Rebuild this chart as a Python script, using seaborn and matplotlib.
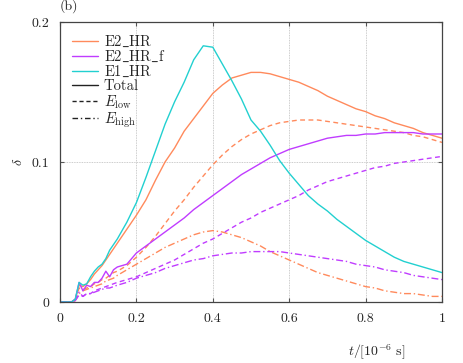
import numpy as np
import pandas as pd
import matplotlib
matplotlib.use("Agg")
import matplotlib.pyplot as plt
import seaborn as sns
from matplotlib.lines import Line2D

# time grid in units of 1e-6 s
t = [0, 0.02, 0.03, 0.04, 0.05, 0.06, 0.07, 0.08, 0.09, 0.10, 0.11, 0.12, 0.13, 0.14, 0.15,
     0.175, 0.2, 0.225, 0.25, 0.275, 0.3, 0.325, 0.35, 0.375, 0.4, 0.425, 0.45, 0.475, 0.5,
     0.525, 0.55, 0.575, 0.6, 0.625, 0.65, 0.675, 0.7, 0.725, 0.75, 0.775, 0.8, 0.825, 0.85,
     0.875, 0.9, 0.925, 0.95, 0.975, 1.0]

# E2_HR
e2_total = [0, 0, 0, 0.002, 0.012, 0.011, 0.013, 0.016, 0.020, 0.023, 0.026, 0.030, 0.034, 0.038, 0.042,
            0.052, 0.062, 0.073, 0.087, 0.100, 0.110, 0.122, 0.131, 0.140, 0.149, 0.155, 0.160, 0.162, 0.164,
            0.164, 0.163, 0.161, 0.159, 0.157, 0.154, 0.151, 0.147, 0.144, 0.141, 0.138, 0.136, 0.133, 0.131,
            0.128, 0.126, 0.124, 0.121, 0.119, 0.117]
e2_low = [0, 0, 0, 0.001, 0.010, 0.009, 0.010, 0.011, 0.013, 0.014, 0.016, 0.017, 0.019, 0.021, 0.022,
          0.026, 0.032, 0.039, 0.047, 0.056, 0.065, 0.073, 0.082, 0.090, 0.098, 0.105, 0.111, 0.116, 0.120,
          0.123, 0.126, 0.128, 0.129, 0.130, 0.130, 0.130, 0.129, 0.128, 0.127, 0.126, 0.125, 0.124, 0.123,
          0.122, 0.121, 0.119, 0.118, 0.116, 0.114]
e2_high = [0, 0, 0, 0.001, 0.006, 0.008, 0.009, 0.010, 0.011, 0.012, 0.013, 0.015, 0.016, 0.017, 0.019,
           0.023, 0.027, 0.031, 0.035, 0.039, 0.042, 0.045, 0.048, 0.050, 0.051, 0.050, 0.048, 0.046, 0.043,
           0.040, 0.036, 0.033, 0.030, 0.027, 0.024, 0.021, 0.019, 0.017, 0.015, 0.013, 0.011, 0.010, 0.008,
           0.007, 0.006, 0.006, 0.005, 0.004, 0.004]

# E2_HR_f
e2f_total = [0, 0, 0, 0.002, 0.014, 0.008, 0.012, 0.011, 0.014, 0.014, 0.017, 0.022, 0.018, 0.023, 0.025,
             0.027, 0.035, 0.040, 0.045, 0.050, 0.055, 0.060, 0.066, 0.071, 0.076, 0.081, 0.086, 0.091, 0.095,
             0.099, 0.103, 0.106, 0.109, 0.111, 0.113, 0.115, 0.117, 0.118, 0.119, 0.119, 0.120, 0.120, 0.121,
             0.121, 0.121, 0.121, 0.120, 0.120, 0.120]
e2f_low = [0, 0, 0, 0.001, 0.005, 0.004, 0.006, 0.006, 0.008, 0.009, 0.010, 0.011, 0.012, 0.013, 0.014,
           0.016, 0.018, 0.021, 0.024, 0.027, 0.030, 0.034, 0.038, 0.042, 0.045, 0.049, 0.053, 0.057, 0.060,
           0.064, 0.067, 0.070, 0.073, 0.076, 0.080, 0.083, 0.086, 0.088, 0.090, 0.092, 0.094, 0.096, 0.097,
           0.099, 0.100, 0.101, 0.102, 0.103, 0.104]
e2f_high = [0, 0, 0, 0.001, 0.007, 0.004, 0.006, 0.006, 0.007, 0.008, 0.009, 0.010, 0.010, 0.011, 0.012,
            0.014, 0.017, 0.019, 0.021, 0.024, 0.026, 0.028, 0.030, 0.031, 0.033, 0.034, 0.035, 0.035, 0.036,
            0.036, 0.036, 0.036, 0.035, 0.034, 0.033, 0.032, 0.031, 0.030, 0.029, 0.027, 0.026, 0.025, 0.023,
            0.022, 0.021, 0.019, 0.018, 0.017, 0.016]

# E1_HR
e1_total = [0, 0, 0, 0.002, 0.014, 0.012, 0.013, 0.018, 0.022, 0.025, 0.027, 0.031, 0.037, 0.041, 0.045,
            0.057, 0.071, 0.089, 0.108, 0.127, 0.143, 0.157, 0.173, 0.183, 0.182, 0.170, 0.158, 0.145, 0.130,
            0.122, 0.112, 0.101, 0.092, 0.084, 0.076, 0.070, 0.065, 0.059, 0.054, 0.049, 0.044, 0.040, 0.036,
            0.032, 0.029, 0.027, 0.025, 0.023, 0.021]

c_e2 = "#ff8a5c"
c_e2f = "#c03cff"
c_e1 = "#22d0d0"

sns.set_style("ticks")
plt.rcParams["font.family"] = "cmr10"
plt.rcParams["mathtext.fontset"] = "cm"
plt.rcParams["axes.formatter.use_mathtext"] = True
plt.rcParams["font.size"] = 10

fig = plt.figure(figsize=(4.63, 3.63), dpi=100)
ax = fig.add_axes([60 / 463, 1 - 302 / 363, 382 / 463, 280 / 363])

series = [
    (e2_total, c_e2, "-"), (e2_low, c_e2, (0, (3.5, 2.5))), (e2_high, c_e2, (0, (5, 2, 1, 2))),
    (e2f_total, c_e2f, "-"), (e2f_low, c_e2f, (0, (3.5, 2.5))), (e2f_high, c_e2f, (0, (5, 2, 1, 2))),
    (e1_total, c_e1, "-"),
]
for vals, col, ls in series:
    sns.lineplot(x=t, y=vals, ax=ax, color=col, linewidth=1.0, linestyle=ls)

ax.set_xlim(0, 1)
ax.set_ylim(0, 0.2)
ax.set_xticks([0, 0.2, 0.4, 0.6, 0.8, 1])
ax.set_xticklabels(["0", "0.2", "0.4", "0.6", "0.8", "1"])
ax.set_yticks([0, 0.1, 0.2])
ax.set_yticklabels(["0", "0.1", "0.2"])
ax.grid(True, color="#bbbbbb", linestyle=(0, (1, 1)), linewidth=0.6)
ax.tick_params(direction="in", length=3, width=0.8, color="#555555", top=True, right=True, pad=8)
for sp in ax.spines.values():
    sp.set_color("#444444")
    sp.set_linewidth(0.9)

ax.set_ylabel(r"$\delta$", labelpad=4)
ax.set_xlabel(r"$t/[10^{-6}\ \mathrm{s}]$")
ax.xaxis.set_label_coords(0.83, -0.145)
ax.text(0.0, 1.045, "(b)", transform=ax.transAxes, fontsize=10)

handles = [
    Line2D([], [], color=c_e2, lw=1.0),
    Line2D([], [], color=c_e2f, lw=1.0),
    Line2D([], [], color=c_e1, lw=1.0),
    Line2D([], [], color="#222222", lw=1.0),
    Line2D([], [], color="#222222", lw=1.0, ls=(0, (3, 2))),
    Line2D([], [], color="#222222", lw=1.0, ls=(0, (4, 2, 1, 2))),
]
labels = [r"$\mathrm{E2\_HR}$", r"$\mathrm{E2\_HR\_f}$", r"$\mathrm{E1\_HR}$", "Total",
          r"$E_{\mathrm{low}}$", r"$E_{\mathrm{high}}$"]
ax.legend(handles, labels, loc="upper left", frameon=False, fontsize=10.5, handlelength=1.8,
          handletextpad=0.4, labelspacing=0.0, borderaxespad=0.4)

fig.savefig("out.png", dpi=100)
